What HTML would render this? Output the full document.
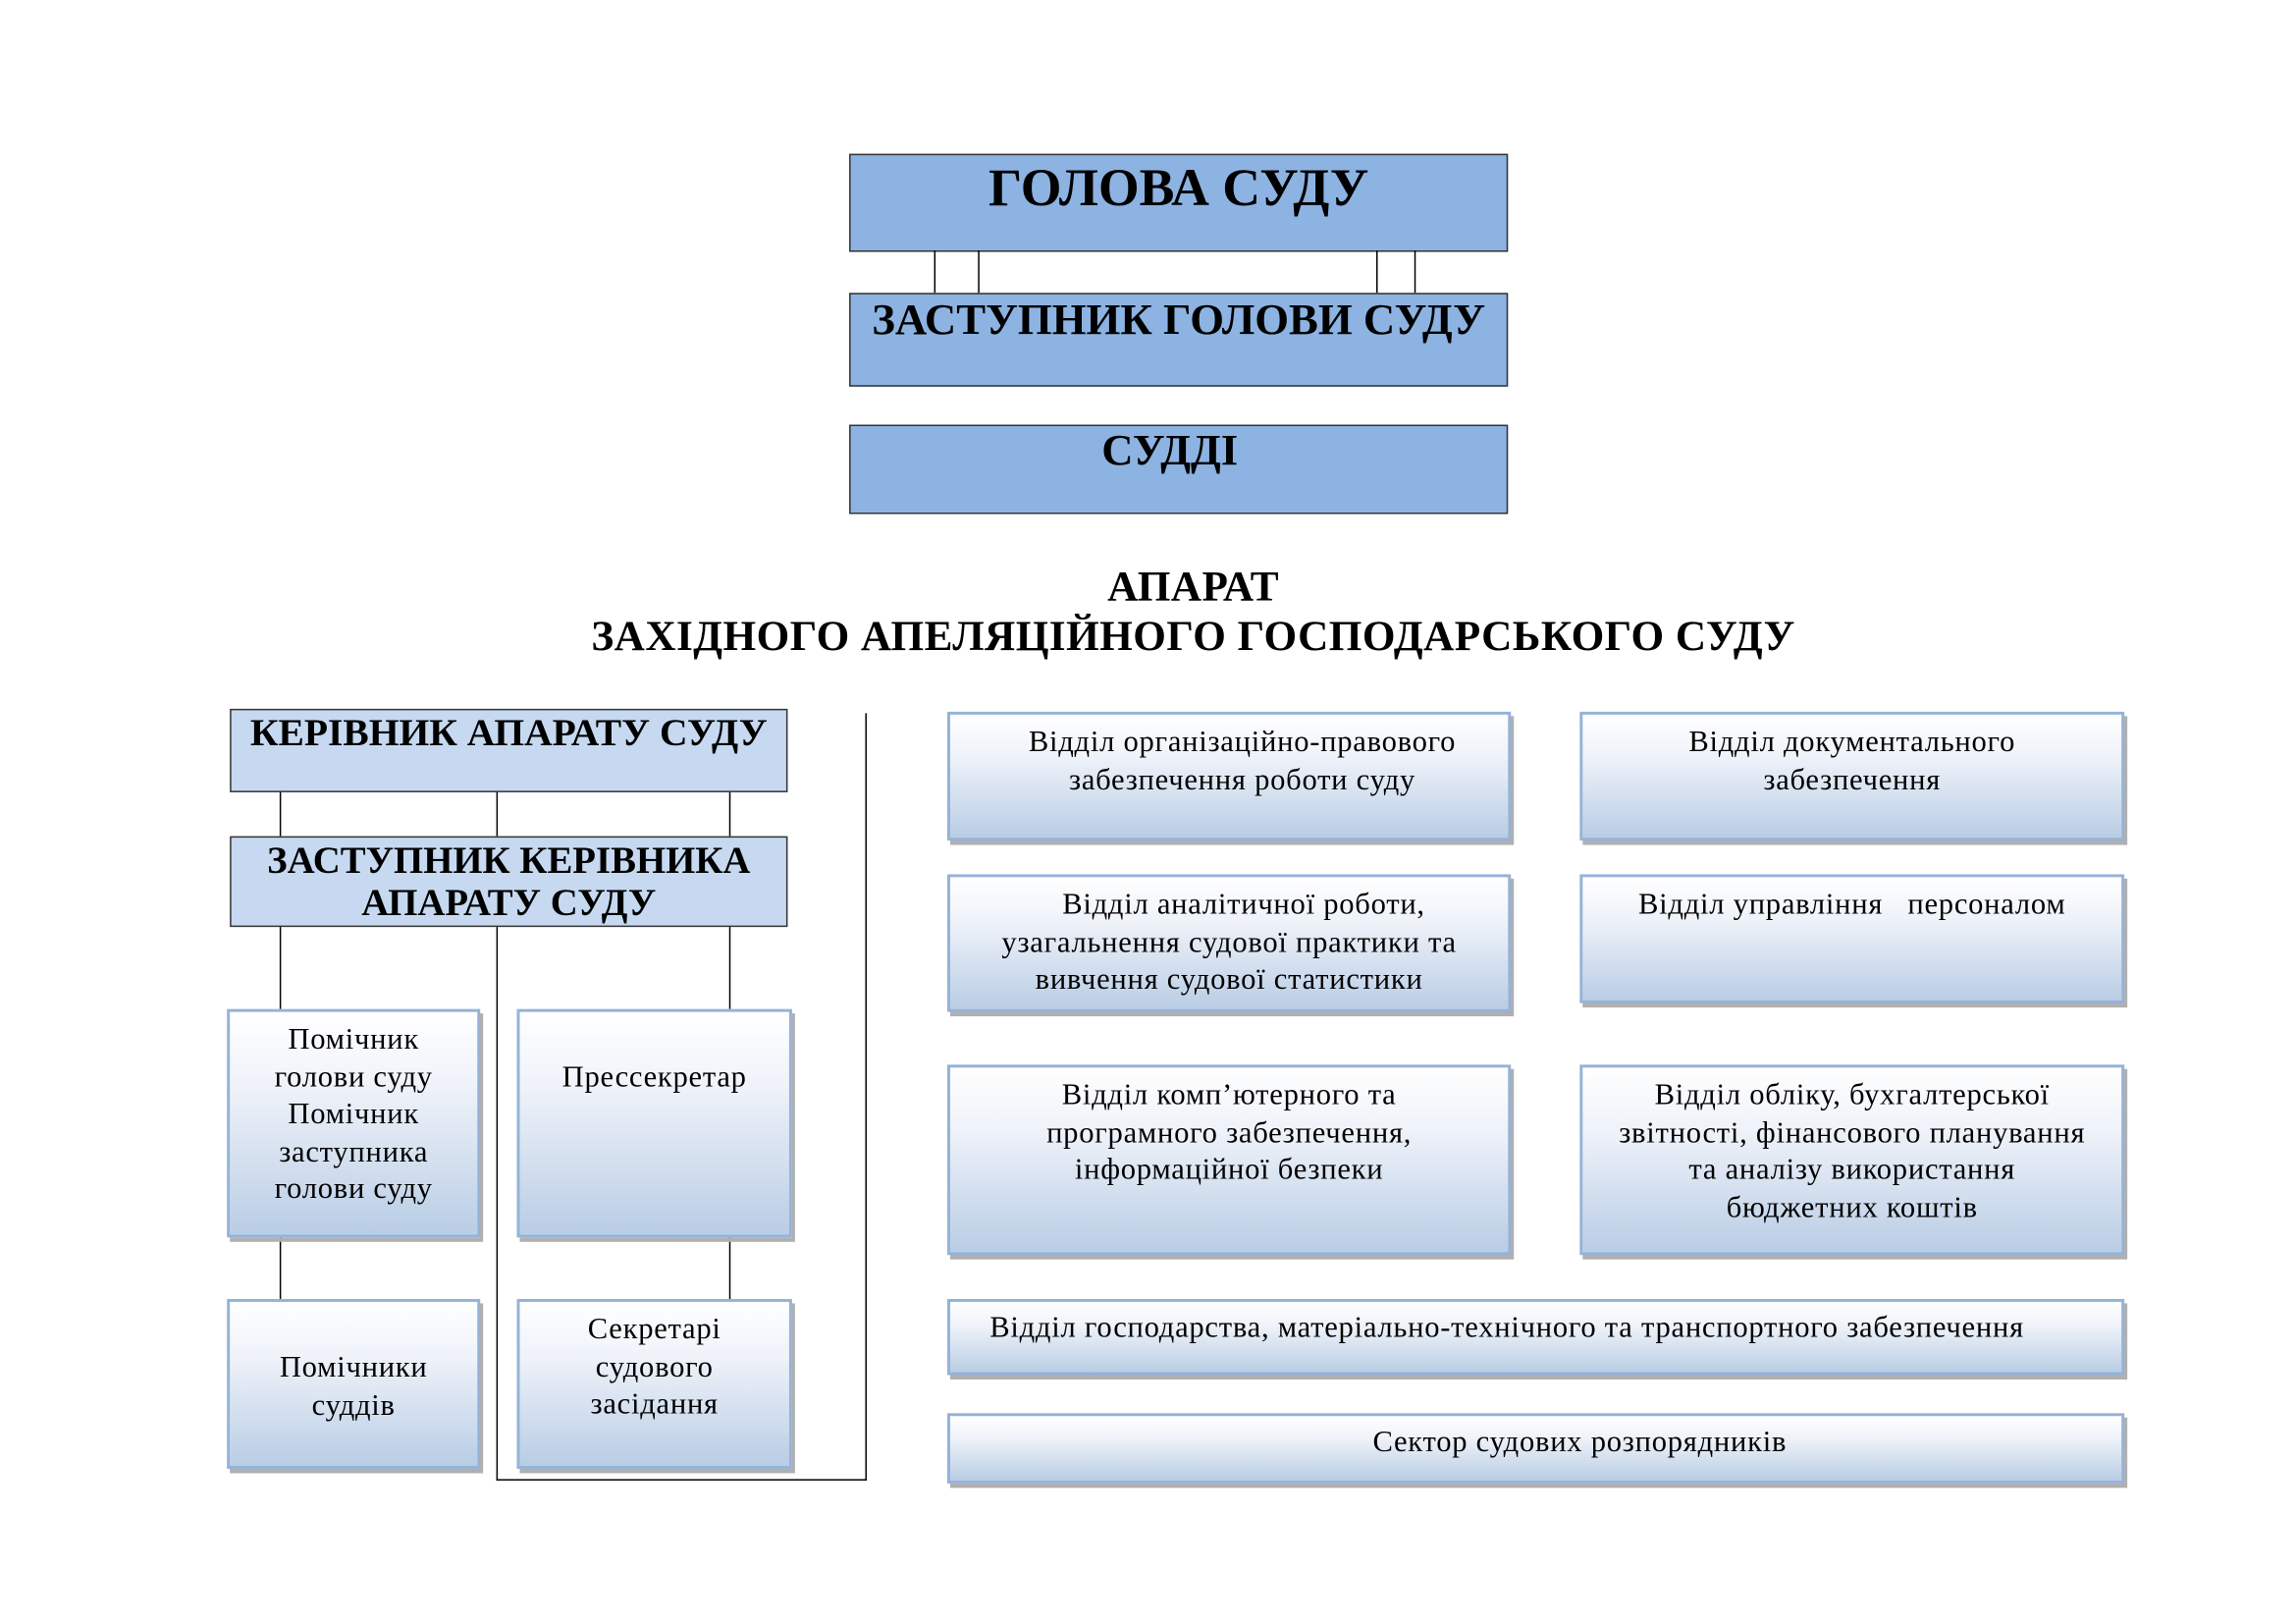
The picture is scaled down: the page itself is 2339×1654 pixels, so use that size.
<!DOCTYPE html>
<html><head><meta charset="utf-8"><style>
html,body{margin:0;padding:0;background:#fff;width:2339px;height:1654px;overflow:hidden}
#w{position:absolute;left:0;top:0;width:1562px;height:1104px;transform:scale(1.4915);transform-origin:0 0;font-family:"Liberation Serif","DejaVu Serif",serif;color:#000}
.a{position:absolute;box-sizing:border-box;white-space:nowrap}
.d{background:#8db3e2;border:1px solid #333;text-align:center;font-weight:bold}
.k{background:#c6d9f1;border:1px solid #333;text-align:center;font-weight:bold}
.g{background:linear-gradient(#fff 0%,#eef2f9 35%,#b9cde5 100%);border:2px solid #95b3d7;box-shadow:2px 3px 0 #b0b0b0;text-align:center;font-size:20.5px;letter-spacing:0.5px;line-height:25.5px}
.v{position:absolute;width:1px;background:#000}
.h{position:absolute;height:1px;background:#000}
</style></head><body><div id="w">
<div class="a d" style="left:580px;top:105px;width:450px;height:67px;font-size:36px;line-height:44px">ГОЛОВА СУДУ</div>
<div class="v" style="left:638px;top:171px;height:29px"></div>
<div class="v" style="left:668px;top:171px;height:29px"></div>
<div class="v" style="left:940px;top:171px;height:29px"></div>
<div class="v" style="left:966px;top:171px;height:29px"></div>
<div class="a d" style="left:580px;top:200px;width:450px;height:64px;font-size:30px;line-height:36px">ЗАСТУПНИК ГОЛОВИ СУДУ</div>
<div class="a d" style="left:580px;top:290px;width:450px;height:61px;font-size:30px;line-height:34px;padding-right:12px">СУДДІ</div>
<div class="a" style="left:300px;top:384px;width:1030px;text-align:center;font-weight:bold;font-size:29px;line-height:34px;letter-spacing:0.3px">АПАРАТ<br>ЗАХІДНОГО АПЕЛЯЦІЙНОГО ГОСПОДАРСЬКОГО СУДУ</div>

<div class="a k" style="left:157px;top:484px;width:381px;height:57px;font-size:26.5px;line-height:31px">КЕРІВНИК АПАРАТУ СУДУ</div>
<div class="v" style="left:191px;top:541px;height:30px"></div>
<div class="v" style="left:339px;top:541px;height:30px"></div>
<div class="v" style="left:498px;top:541px;height:30px"></div>
<div class="a k" style="left:157px;top:571px;width:381px;height:62px;font-size:26px;line-height:29px;padding-top:1px">ЗАСТУПНИК КЕРІВНИКА<br>АПАРАТУ СУДУ</div>
<div class="v" style="left:191px;top:633px;height:56px"></div>
<div class="v" style="left:339px;top:633px;height:378px"></div>
<div class="v" style="left:498px;top:633px;height:56px"></div>
<div class="v" style="left:591px;top:487px;height:524px"></div>
<div class="h" style="left:339px;top:1010px;width:253px"></div>
<div class="v" style="left:191px;top:844px;height:43px"></div>
<div class="v" style="left:498px;top:844px;height:43px"></div>

<div class="a g" style="left:155px;top:689px;width:173px;height:156px;padding-top:7px">Помічник<br>голови суду<br>Помічник<br>заступника<br>голови суду</div>
<div class="a g" style="left:353px;top:689px;width:188px;height:156px;padding-top:33px">Прессекретар</div>
<div class="a g" style="left:155px;top:887px;width:173px;height:116px;padding-top:33px">Помічники<br>суддів</div>
<div class="a g" style="left:353px;top:887px;width:188px;height:116px;padding-top:7px">Секретарі<br>судового<br>засідання</div>

<div class="a g" style="left:647px;top:486px;width:385px;height:88px;padding-top:7px;padding-left:18px">Відділ організаційно-правового<br>забезпечення роботи суду</div>
<div class="a g" style="left:1079px;top:486px;width:372px;height:88px;padding-top:7px">Відділ документального<br>забезпечення</div>
<div class="a g" style="left:647px;top:597px;width:385px;height:94px;padding-top:7px"><span style="padding-left:20px">Відділ аналітичної роботи,</span><br>узагальнення судової практики та<br>вивчення судової статистики</div>
<div class="a g" style="left:1079px;top:597px;width:372px;height:88px;padding-top:7px">Відділ управління &nbsp; персоналом</div>
<div class="a g" style="left:647px;top:727px;width:385px;height:130px;padding-top:7px">Відділ комп’ютерного та<br>програмного забезпечення,<br>інформаційної безпеки</div>
<div class="a g" style="left:1079px;top:727px;width:372px;height:130px;padding-top:7px">Відділ обліку, бухгалтерської<br>звітності, фінансового планування<br>та аналізу використання<br>бюджетних коштів</div>
<div class="a g" style="left:647px;top:887px;width:804px;height:52px;padding-top:6px;text-align:left;padding-left:27px">Відділ господарства, матеріально-технічного та транспортного забезпечення</div>
<div class="a g" style="left:647px;top:965px;width:804px;height:48px;padding-top:6px;padding-left:60px">Сектор судових розпорядників</div>
</div></body></html>
